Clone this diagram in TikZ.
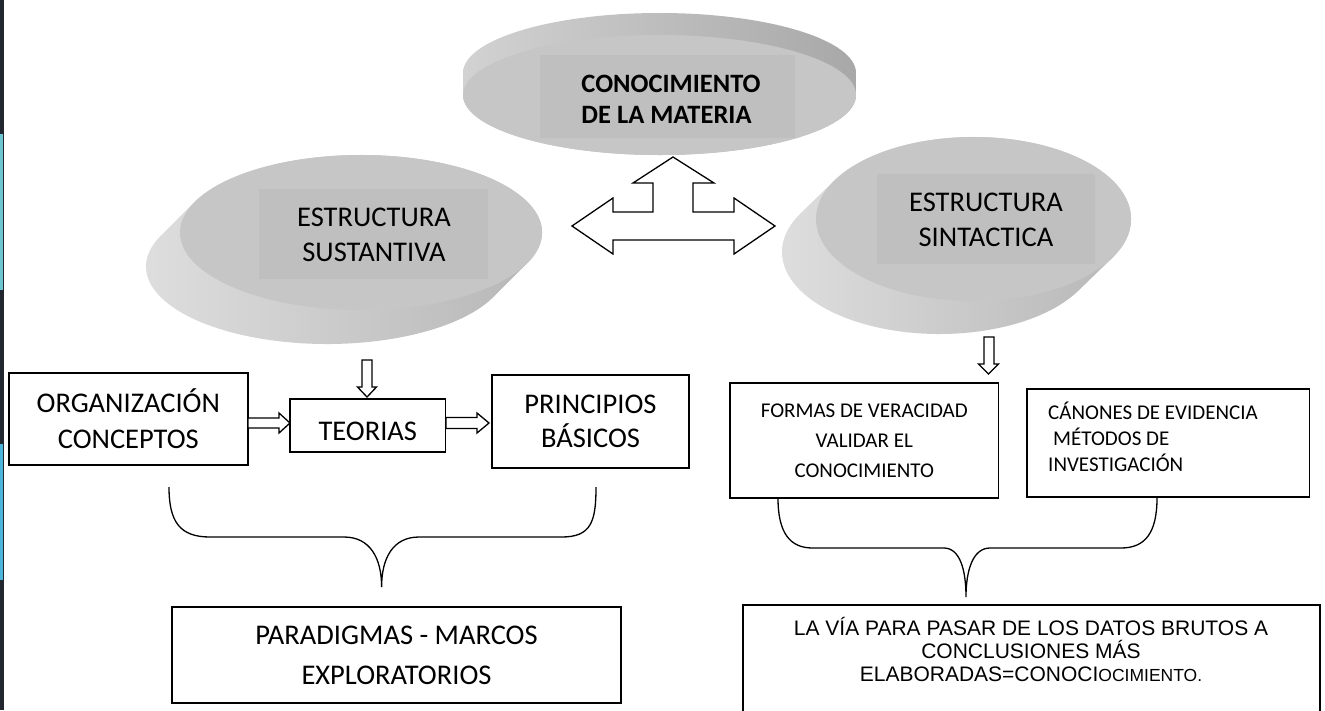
\documentclass[tikz,border=0pt]{standalone}
\usepackage{fontspec}
\setmainfont{Carlito}
\newfontfamily\arialf{Liberation Sans}
\usetikzlibrary{calc}
\definecolor{facegray}{HTML}{C6C6C6}
\definecolor{rectgray}{HTML}{BFBFBF}
\definecolor{sideL}{HTML}{E0E0E0}
\definecolor{sideM}{HTML}{999999}
\definecolor{sideR}{HTML}{B4B4B4}
\definecolor{rimL}{HTML}{D2D2D2}
\definecolor{rimM}{HTML}{959595}
\definecolor{rimR}{HTML}{A8A8A8}
\definecolor{stripedark}{HTML}{22262E}
\definecolor{stripecyan}{HTML}{6CC5D0}
\definecolor{stripeblue}{HTML}{4BB5DB}
\newcommand\mydisc[8]{%
  \pgfmathsetmacro\dta{#7}%
  \pgfmathsetmacro\dtb{#7+180}%
  \pgfmathsetmacro\dtc{#7+360}%
  \shade[#8] ({#1+#3*cos(\dta)+#5},{#2+#4*sin(\dta)+#6})
     arc[start angle=\dta, end angle=\dtb, x radius=#3, y radius=#4]
     -- ++({-(#5)},{-(#6)})
     arc[start angle=\dtb, end angle=\dtc, x radius=#3, y radius=#4] -- cycle;
  \fill[facegray] (#1,#2) ellipse[x radius=#3, y radius=#4];
}
\tikzset{
  disctext/.style={align=center, inner sep=0pt, font=\fontsize{28.5}{35}\selectfont},
  titletext/.style={align=left, inner sep=0pt, font=\bfseries\fontsize{26.5}{31}\selectfont},
  box/.style={draw, line width=1.7pt, inner sep=0pt, align=center, font=\fontsize{28.5}{36}\selectfont},
  smallbox/.style={draw, line width=1.7pt, inner sep=0pt, align=center, font=\fontsize{21}{30}\selectfont},
  barrow/.style={draw, line width=1.3pt, fill=white, line join=miter},
  bracel/.style={draw, line width=1.3pt},
}
\begin{document}
\begin{tikzpicture}[x=1pt,y=-1pt]
\useasboundingbox (0,0) rectangle (1325,710);
\fill[white] (0,0) rectangle (1325,710);
% left edge stripe
\fill[stripedark] (0,0) rectangle (3.5,710);
\fill[stripecyan] (0,134) rectangle (2.5,290);
\fill[stripeblue] (0,444) rectangle (2.5,580);

% discs
\mydisc{659.5}{95}{196.5}{60}{0}{-22}{180}{left color=rimL, middle color=rimM, right color=rimR}
\mydisc{361}{232.5}{181}{77.5}{-34}{34}{23.2}{left color=sideL, middle color=sideM, right color=sideR}
\mydisc{973.5}{219}{157.5}{82}{-34}{33}{28.2}{left color=sideL, middle color=sideM, right color=sideR}

\fill[rectgray] (540,55) rectangle (795,138);
\fill[rectgray] (259,189) rectangle (488,279);
\fill[rectgray] (877,174) rectangle (1095,264);

\node[titletext] (cm) at (671,99) {CONOCIMIENTO\\DE LA MATERIA};
\node[disctext] (es) at (374,235.3) {ESTRUCTURA\\SUSTANTIVA};
\node[disctext] (ei) at (986,220.3) {ESTRUCTURA\\SINTACTICA};

% three-way block arrow
\draw[barrow] (673,157) -- (714,183) -- (693,183) -- (693,212) -- (734,212) -- (734,198)
  -- (775,226) -- (734,254) -- (734,240) -- (613,240) -- (613,254) -- (572,226)
  -- (613,198) -- (613,212) -- (653,212) -- (653,183) -- (633,183) -- cycle;

% left boxes
\node[box, minimum width=239.3pt, minimum height=92pt] (org) at (128.3,419) {ORGANIZACIÓN\\CONCEPTOS};
\node[box, minimum width=155.6pt, minimum height=53pt, text height=29pt, text depth=0pt] (teo) at (367.8,425.5) {TEORIAS};
\node[box, minimum width=197pt, minimum height=93pt, font=\fontsize{28.5}{34}\selectfont] (pri) at (590.5,421.5) {PRINCIPIOS\\BÁSICOS};
\node[box, minimum width=449pt, minimum height=96pt, font=\fontsize{28.5}{40}\selectfont] (par) at (396.5,655) {PARADIGMAS - MARCOS\\EXPLORATORIOS};

% left arrows
\draw[barrow] (362,360) -- (372,360) -- (372,387) -- (376.5,387) -- (367,397) -- (357.5,387) -- (362,387) -- cycle;
\draw[barrow] (248,418) -- (279,418) -- (279,413) -- (290,423) -- (279,433) -- (279,428) -- (248,428) -- cycle;
\draw[barrow] (446,417.5) -- (477,417.5) -- (477,413) -- (489,423) -- (477,433) -- (477,428.5) -- (446,428.5) -- cycle;

% left brace
\draw[bracel] (169,487) .. controls (169,522) and (180,537) .. (210,537) -- (344,537)
  .. controls (370,537) and (381.6,558) .. (381.6,587)
  .. controls (381.6,558) and (393,537) .. (419,537) -- (561.5,537)
  .. controls (591,537) and (596,522) .. (596,487);

% right boxes
\node[smallbox, minimum width=268.5pt, minimum height=115pt] (for) at (864.25,440.5) {FORMAS DE VERACIDAD\\VALIDAR EL\\CONOCIMIENTO};
\node[draw, line width=1.7pt, minimum width=282.5pt, minimum height=108pt, inner sep=0pt] (can) at (1168.25,443) {};
\node[align=left, anchor=west, inner sep=0pt, font=\fontsize{21}{26}\selectfont] (cant) at (1048,437.2) {CÁNONES DE EVIDENCIA\\\hspace*{5pt}MÉTODOS DE\\INVESTIGACIÓN};

% right arrow
\draw[barrow] (984,337) -- (994,337) -- (994,364) -- (998.5,364) -- (988.5,374) -- (978.5,364) -- (984,364) -- cycle;

% right brace
\draw[bracel] (778,498) .. controls (778,533) and (790,548) .. (812.6,548) -- (943.8,548)
  .. controls (960,548) and (966,570) .. (966,597)
  .. controls (966,570) and (973,548) .. (990,548) -- (1121,548)
  .. controls (1145,548) and (1157,533) .. (1157,498);

% bottom right box
\node[draw, line width=1.7pt, minimum width=577pt, minimum height=120pt, inner sep=0pt] (via) at (1031.5,665) {};
\node[align=center, inner sep=0pt, font=\arialf\fontsize{21}{23}\selectfont] (viat) at (1031,649.4)
  {LA VÍA PARA PASAR DE LOS DATOS BRUTOS A\\CONCLUSIONES MÁS\\ELABORADAS=CONOCI{\fontsize{17.5}{23}\selectfont OCIMIENTO.}};
\end{tikzpicture}
\end{document}
